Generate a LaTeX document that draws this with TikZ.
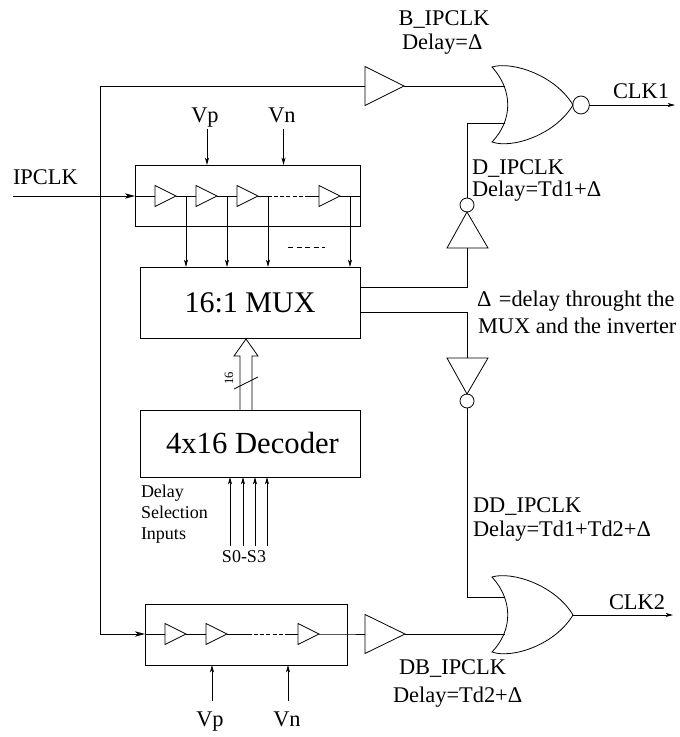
\documentclass[tikz,border=0pt]{standalone}
\usepackage{fontspec}
\setmainfont{Liberation Serif}
\usetikzlibrary{arrows.meta}
\tikzset{
  wire/.style={line width=0.6pt,line join=miter},
  sig/.style={wire,-{Stealth[length=5.5pt,width=3pt,inset=1.5pt]}},
  bigsig/.style={wire,-{Stealth[length=7.5pt,width=4pt,inset=2pt]}},
  blockbox/.style={draw,line width=0.6pt,rectangle,inner sep=0pt,outer sep=0pt},
  lab/.style={inner sep=0pt,outer sep=0pt,anchor=base west,font=\fontsize{16.8}{18}\selectfont},
  labc/.style={lab,anchor=base},
  smalllab/.style={lab,font=\fontsize{13.5}{15}\selectfont},
  biglab/.style={inner sep=0pt,outer sep=0pt,font=\fontsize{22.5}{24}\selectfont},
  biggerlab/.style={inner sep=0pt,outer sep=0pt,font=\fontsize{23}{24}\selectfont},
  bubble/.style={draw,line width=0.6pt,ellipse,inner sep=0pt,outer sep=0pt},
  dotwire/.style={wire,dash pattern=on 3pt off 1.6pt},
}
\usetikzlibrary{shapes.geometric}
% right-pointing buffer: name, x back, x tip, y mid, half height
\newcommand{\rbuf}[5]{%
  \draw[wire] (#2,#4-#5) -- (#3,#4) -- (#2,#4+#5) -- cycle;
  \coordinate (#1-in) at (#2,#4);
  \coordinate (#1-out) at (#3,#4);
}
% gate body: name, y centre
\newcommand{\gatebody}[2]{%
  \draw[wire] (492,#2-38) .. controls (512,#2-44) and (555,#2-30) .. (573,#2)
     .. controls (555,#2+30) and (512,#2+44) .. (492,#2+37)
     .. controls (513,#2+15) and (513,#2-15) .. cycle;
  \coordinate (#1-a) at (505,#2-19);
  \coordinate (#1-b) at (505,#2+18);
  \coordinate (#1-out) at (573,#2);
}
\begin{document}
\begin{tikzpicture}[x=0.75pt,y=-0.75pt]
\useasboundingbox (0,0) rectangle (680,737);

% blocks
\node[blockbox,minimum width=168.75pt,minimum height=45.75pt] (chainA) at (247.5,195.5) {};
\node[blockbox,minimum width=165pt,minimum height=53.25pt,biglab] (mux) at (250,302.5) {16:1 MUX};
\node[blockbox,minimum width=165pt,minimum height=50.25pt,biggerlab] (dec) at (250,443.5) {\hspace*{3.75pt}4x16 Decoder};
\node[blockbox,minimum width=151.5pt,minimum height=45.75pt] (chainB) at (246,634.5) {};

% top chain
\coordinate (ipin) at (13,196);
\coordinate (chainAin) at (135,196);
\coordinate (chainAout) at (360,196);
\rbuf{a1}{155}{176}{196}{10.5}
\rbuf{a2}{196}{217}{196}{10.5}
\rbuf{a3}{237}{258}{196}{10.5}
\rbuf{a4}{319}{340}{196}{10.5}
\draw[bigsig] (ipin) -- (chainAin);
\draw[wire] (chainAin) -- (a1-in);
\draw[wire] (a1-out) -- (a2-in);
\draw[wire] (a2-out) -- (a3-in);
\coordinate (a3d) at (268,196);
\coordinate (a4d) at (309,196);
\draw[wire] (a3-out) -- (a3d);
\draw[dotwire] (a3d) -- (a4d);
\draw[wire] (a4d) -- (a4-in);
\draw[wire] (a4-out) -- (chainAout);

% taps
\foreach \n/\x in {t1/186,t2/227,t3/268,t4/350}{
  \coordinate (\n-top) at (\x,196);
  \coordinate (\n-bot) at (\x,267);
  \draw[sig] (\n-top) -- (\n-bot);
}
\coordinate (dashL) at (288,247);
\coordinate (dashR) at (325,247);
\draw[line width=0.5pt,dash pattern=on 4pt off 2.4pt] (dashL) -- (dashR);

% Vp Vn top
\coordinate (vpa) at (207,129);
\coordinate (vpb) at (207,165);
\coordinate (vna) at (283.5,129);
\coordinate (vnb) at (283.5,165);
\draw[sig] (vpa) -- (vpb);
\draw[sig] (vna) -- (vnb);
\node[labc] (vptop) at (205,123) {Vp};
\node[labc] (vntop) at (282,123) {Vn};
\node[lab] (iplab) at (13,185) {IPCLK};

% wide bus
\coordinate (busL) at (240,410);
\coordinate (busR) at (252,410);
\coordinate (tip) at (246,339);
\draw[wire] (busL) -- (240,356) -- (234,356) -- (tip) -- (258,356) -- (252,356) -- (busR);
\coordinate (slashA) at (234,389);
\coordinate (slashB) at (258,377);
\draw[wire] (slashA) -- (slashB);
\node[inner sep=0pt,font=\fontsize{9.5}{10}\selectfont,rotate=90] (bus16) at (229,378.5) {16};

% decoder inputs
\foreach \n/\x in {s0/230,s1/243,s2/255,s3/267}{
  \coordinate (\n-a) at (\x,546);
  \coordinate (\n-b) at (\x,477);
  \draw[sig] (\n-a) -- (\n-b);
}
\node[smalllab] (dly) at (141,497) {Delay};
\node[smalllab] (sel) at (141,518) {Selection};
\node[smalllab] (inp) at (141,539) {Inputs};
\node[smalllab,anchor=base] (ssel) at (244,562) {S0-S3};

% top buffer and NOR
\rbuf{bt}{365}{404}{86}{19.5}
\coordinate (fb) at (100,86);
\coordinate (fbb) at (100,634);
\gatebody{nor}{105}
\node[bubble,minimum width=12.5pt,minimum height=13.5pt] (norb) at (581,105) {};
\coordinate (clk1) at (675,105);
\draw[sig] (norb.east) -- (clk1);
\draw[wire] (bt-in) -- (fb) -- (fbb);
\draw[wire] (bt-out) -- (nor-a);
\node[labc] (clk1l) at (641,99) {CLK1};
\node[labc] (bl) at (444,26) {B\_IPCLK};
\node[lab] (dl1) at (402,50) {Delay=Δ};

% upper inverter
\node[bubble,minimum width=10.5pt,minimum height=10.5pt] (invAb) at (467,205) {};
\coordinate (invAin) at (467,248);
\draw[wire] (447,248) -- (488,248) -- (467,212) -- cycle;
\draw[wire] (invAb.north) -- (467,123) -- (nor-b);
\draw[wire] (invAin) -- (467,287) -- (360,287);
\node[lab] (dlab) at (472,175) {D\_IPCLK};
\node[lab] (dlab2) at (472,197) {Delay=Td1+Δ};

% lower inverter
\node[bubble,minimum width=10.5pt,minimum height=10.5pt] (invBb) at (467,401) {};
\coordinate (invBin) at (467,358);
\draw[wire] (447,358) -- (488,358) -- (467,394) -- cycle;
\draw[wire] (360,312) -- (467,312) -- (invBin);

% delta note
\node[lab] (note1) at (477,306) {Δ\,\,=delay throught the};
\node[lab] (note2) at (478,333) {MUX and the inverter};

% OR gate
\gatebody{or}{615}
\coordinate (clk2) at (673,615);
\draw[sig] (or-out) -- (clk2);
\draw[wire] (invBb.south) -- (467,597) -- (or-a |- 0,597);
\node[labc] (clk2l) at (637,609) {CLK2};
\node[lab] (ddl) at (473,512) {DD\_IPCLK};
\node[lab] (ddl2) at (473,536) {Delay=Td1+Td2+Δ};

% bottom chain
\coordinate (chainBin) at (145,634);
\coordinate (chainBout) at (347,634);
\draw[bigsig] (fbb) -- (chainBin);
\rbuf{b1}{165}{186}{634}{10.5}
\rbuf{b2}{206}{227}{634}{10.5}
\rbuf{b3}{298}{319}{634}{10.5}
\rbuf{bb}{365}{405}{634}{19.5}
\draw[wire] (chainBin) -- (b1-in);
\draw[wire] (b1-out) -- (b2-in);
\coordinate (b2d) at (248,634);
\coordinate (b3d) at (288,634);
\draw[wire] (b2-out) -- (b2d);
\draw[dotwire] (b2d) -- (b3d);
\draw[wire] (b3d) -- (b3-in);
\draw[wire] (b3-out) -- (chainBout) -- (bb-in);
\draw[wire] (bb-out) -- (505,634);
\coordinate (vpc) at (212,701);
\coordinate (vpd) at (212,665);
\coordinate (vnc) at (288,701);
\coordinate (vnd) at (288,665);
\draw[sig] (vpc) -- (vpd);
\draw[sig] (vnc) -- (vnd);
\node[labc] (vpbot) at (210,726) {Vp};
\node[labc] (vnbot) at (287,726) {Vn};
\node[lab] (dbl) at (399,674) {DB\_IPCLK};
\node[lab] (dbl2) at (393,702) {Delay=Td2+Δ};
\end{tikzpicture}
\end{document}
